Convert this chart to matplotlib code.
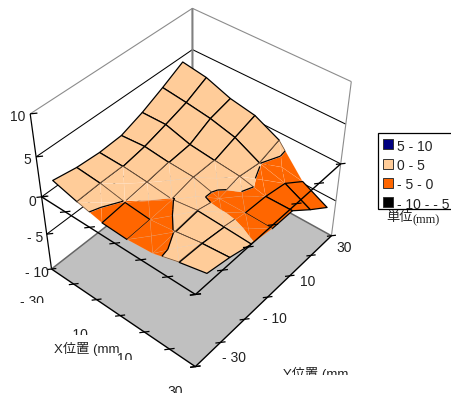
import numpy as np, matplotlib
matplotlib.use('Agg')
import matplotlib.pyplot as plt
from matplotlib.patches import Rectangle
from matplotlib.transforms import Bbox
from mpl_toolkits.mplot3d.art3d import Poly3DCollection

# ---- data ----
x_pos = [-30, -20, -10, 0, 10, 20, 30]
y_pos = [-30, -20, -10, 0, 10, 20, 30]
z_row_x_m30 = [1.32, 0.87, 0.74, 0.94, 1.99, 3.34, 4.82]
z_row_x_m20 = [0.40, 0.58, 0.65, 1.18, 2.03, 2.95, 4.31]
z_row_x_m10 = [-0.39, -0.03, 0.36, 0.82, 1.11, 2.48, 3.16]
z_row_x_0 = [-0.58, -0.35, -0.03, 0.65, 0.74, 1.68, 2.56]
z_row_x_10 = [-0.35, 0.03, 0.41, -0.25, 0.41, 0.05, 0.98]
z_row_x_20 = [0.59, 0.54, 0.24, -0.23, -0.34, -0.82, -2.72]
z_row_x_30 = [1.32, 0.81, 0.05, -0.34, -0.33, -2.46, -4.42]
levels = [-10, -5, 0, 5, 10]
band_colors = ['#000000', '#FF6600', '#FFCC99', '#000080']
legend_labels = ['5 - 10', '0 - 5', '- 5 - 0', '- 10 - - 5']
legend_colors = ['#000080', '#FFCC99', '#FF6600', '#000000']
x_tick_labels = ['- 30', '- 10', '10', '30']
y_tick_labels = ['- 30', '- 10', '10', '30']
z_tick_labels = ['10', '5', '0', '- 5', '- 10']
z_ticks = [10, 5, 0, -5, -10]

# cells/triangles where the reference inks the zero contour
black_cells = {(1, 0), (4, 0), (3, 1), (3, 2), (3, 3), (4, 5)}
black_tris = {(4, 3, 2), (4, 4, 3)}

FW, FH = 452, 398
plt.rcParams['font.family'] = ['Liberation Sans', 'Noto Sans CJK JP']
fig = plt.figure(figsize=(FW / 100, FH / 100), dpi=100)
S, L, B = 356.78, 10.60, 34.73
ax = fig.add_axes([L / FW, B / FH, S / FW, S / FH], projection='3d')
ax.computed_zorder = False
ax.set_xlim(-30, 30); ax.set_ylim(-30, 30); ax.set_zlim(-10, 10)
ax.view_init(42.237, -49.933)
ax.set_proj_type('persp', focal_length=0.5292)
ax.set_box_aspect((1, 1.166, 1.0544))
ax.set_axis_off()
ax.patch.set_visible(False)


def line(xs, ys, zs, c='k', lw=0.8, z=3):
    ax.plot(xs, ys, zs, color=c, lw=lw, zorder=z, clip_on=False, solid_capstyle='butt')


xa, ya = -30, -30
xb, yb = 30, 30
# floor plate
floor = Poly3DCollection([[(xa, ya, -10), (xb, ya, -10), (xb, yb, -10), (xa, yb, -10)]],
                         facecolor='#C0C0C0', edgecolor='none', zorder=2)
ax.add_collection3d(floor, autolim=False); floor.set_clip_on(False)
line([xa, xa, xb], [ya, yb, yb], [-10, -10, -10], c='#666666', lw=1.1, z=2.5)
line([xa, xb, xb], [ya, ya, yb], [-10, -10, -10], c='k', lw=1.0, z=4)
# wall grid
for lev in z_ticks:
    col, lw = ('#8C8C8C', 0.8) if lev == 10 else ('k', 0.75)
    if lev != -10:
        line([xa, xa, xb], [ya, yb, yb], [lev, lev, lev], c=col, lw=lw, z=1)
line([xa, xa], [ya, ya], [-10, 10], c='k', lw=0.9, z=1.5)
line([xa, xa], [yb, yb], [-10, 10], c='#808080', lw=1.5, z=1.2)
line([xb, xb], [yb, yb], [-10, 10], c='#8C8C8C', lw=0.8, z=1.2)
# z ticks
for lev in z_ticks:
    line([xa, xa + 1.3], [ya, ya + 1.3], [lev, lev], c='k', lw=0.9, z=1.6)
# floor ticks
for v in x_pos:
    line([v - 1, v + 1], [ya - 1, ya + 1], [-10, -10], c='k', lw=0.9, z=4)
for v in y_pos:
    line([xb - 1, xb + 1], [v - 1, v + 1], [-10, -10], c='k', lw=0.9, z=4)

# surface, its mesh set slightly inside the box as in the reference
Z = np.array([z_row_x_m30, z_row_x_m20, z_row_x_m10, z_row_x_0,
              z_row_x_10, z_row_x_20, z_row_x_30])
XI, YJ = np.meshgrid(np.array(x_pos, float), np.array(y_pos, float), indexing='ij')
X = 0.445 + 0.984 * XI + 0.010 * YJ
Y = -0.674 + 0.010 * XI + 0.844 * YJ


def clip(poly, lo, hi):
    def half(poly, keep):
        out = []
        n = len(poly)
        for k in range(n):
            a, b = np.array(poly[k]), np.array(poly[(k + 1) % n])
            da, db = keep(a[2]), keep(b[2])
            if da >= 0:
                out.append(a)
            if da * db < 0:
                out.append(a + (b - a) * da / (da - db))
        return out
    p = half(poly, lambda z: z - lo)
    if p:
        p = half(p, lambda z: hi - z)
    return p


def band(z):
    return int(np.searchsorted(levels, z)) - 1


def seg_part(a, b, lo, hi):
    """Part of the segment a-b whose height lies in [lo, hi]."""
    t0, t1 = 0.0, 1.0
    dz = b[2] - a[2]
    if abs(dz) < 1e-12:
        return (a, b) if lo <= a[2] <= hi else None
    ta, tb = (lo - a[2]) / dz, (hi - a[2]) / dz
    t0, t1 = max(t0, min(ta, tb)), min(t1, max(ta, tb))
    if t1 <= t0:
        return None
    return a + (b - a) * t0, a + (b - a) * t1


PEACH = 2
zo = 10.0
for i in range(6):
    for j in range(5, -1, -1):
        q = [(i, j), (i + 1, j), (i + 1, j + 1), (i, j + 1)]
        P = [np.array([X[a], Y[a], Z[a]]) for a in q]
        zo += 1
        bs = {band(Z[a]) for a in q}
        if len(bs) == 1:
            col = Poly3DCollection([[tuple(p) for p in P]], facecolor=band_colors[bs.pop()],
                                   edgecolor='k', linewidth=0.9, zorder=zo)
            ax.add_collection3d(col, autolim=False); col.set_clip_on(False)
            continue
        c = sum(P) / 4
        for t in range(4):
            tri = [P[t], P[(t + 1) % 4], c]
            for b in range(4):
                poly = clip(tri, levels[b], levels[b + 1])
                if len(poly) >= 3:
                    col = Poly3DCollection([[tuple(p) for p in poly]], facecolor=band_colors[b],
                                           edgecolor=(1, 1, 1, 0.15), linewidth=0.35, zorder=zo)
                    ax.add_collection3d(col, autolim=False); col.set_clip_on(False)
            part = seg_part(P[t], P[(t + 1) % 4], levels[PEACH], levels[PEACH + 1])
            if part is not None:
                line([part[0][0], part[1][0]], [part[0][1], part[1][1]], [part[0][2], part[1][2]],
                     c='#6E5038', lw=0.55, z=zo + 0.2)
            if (i, j) in black_cells or (i, j, t) in black_tris:
                pts = []
                for k in range(3):
                    a, b_ = tri[k], tri[(k + 1) % 3]
                    if a[2] * b_[2] < 0:
                        pts.append(a + (b_ - a) * a[2] / (a[2] - b_[2]))
                if len(pts) == 2:
                    line([pts[0][0], pts[1][0]], [pts[0][1], pts[1][1]], [0, 0], c='k', lw=0.9, z=zo + 0.5)

# front axes at z=0 above the surface
zt = 200
line([xa, xb, xb], [ya, ya, yb], [0, 0, 0], c='k', lw=1.0, z=zt)
for v in x_pos:
    line([v - 1, v + 1], [ya - 1, ya + 1], [0, 0], c='k', lw=0.9, z=zt)
for v in y_pos:
    line([xb - 1, xb + 1], [v - 1, v + 1], [0, 0], c='k', lw=0.9, z=zt)
ax.set_xlim(-30, 30); ax.set_ylim(-30, 30); ax.set_zlim(-10, 10)


def txt(px, py, s, ha='left', va='center', size=10, clip_rect=None, **kw):
    t = fig.text(px / FW, 1 - py / FH, s, ha=ha, va=va, fontsize=size, color='#222222', **kw)
    if clip_rect:
        x0, y0, x1, y1 = clip_rect
        t.set_clip_box(Bbox([[x0, FH - y1], [x1, FH - y0]]))
        t.set_clip_on(True)
    return t


for lab, (px, py) in zip(z_tick_labels, [(25, 117), (31, 160), (36, 202), (43, 238), (49, 273)]):
    txt(px, py, lab, ha='right')
for lab, (px, py, cb) in zip(x_tick_labels, [(32, 302, 303), (76, 335, 335), (125, 359, 360), (175, 392, 393)]):
    txt(px, py, lab, ha='center', clip_rect=(0, 0, FW, cb))
for lab, (px, py) in zip(y_tick_labels, [(234, 358), (275, 319), (308, 282), (344, 248)]):
    txt(px, py, lab, ha='center')
txt(54, 349, 'X位置 (mm', size=9.5, clip_rect=(0, 0, 120, FH))
txt(283, 374, 'Y位置 (mm', size=9.5, clip_rect=(0, 0, FW, 375))

# legend
fig.add_artist(Rectangle((378.5 / FW, 1 - 209 / FH), 80 / FW, 76 / FH, transform=fig.transFigure,
                         facecolor='white', edgecolor='k', linewidth=0.9))
for lab, c, (top, mid) in zip(legend_labels, legend_colors, [(139, 147), (159, 166), (178, 185), (197, 205)]):
    fig.add_artist(Rectangle((383.5 / FW, 1 - (top + 10) / FH), 9.5 / FW, 10 / FH, transform=fig.transFigure,
                             facecolor=c, edgecolor='#333333', linewidth=0.7))
    txt(397, mid, lab)
txt(386, 218, '単位', size=9.5)
txt(413, 220, '(mm)', size=9, family='Liberation Serif')
fig.savefig('out.png', dpi=100)
